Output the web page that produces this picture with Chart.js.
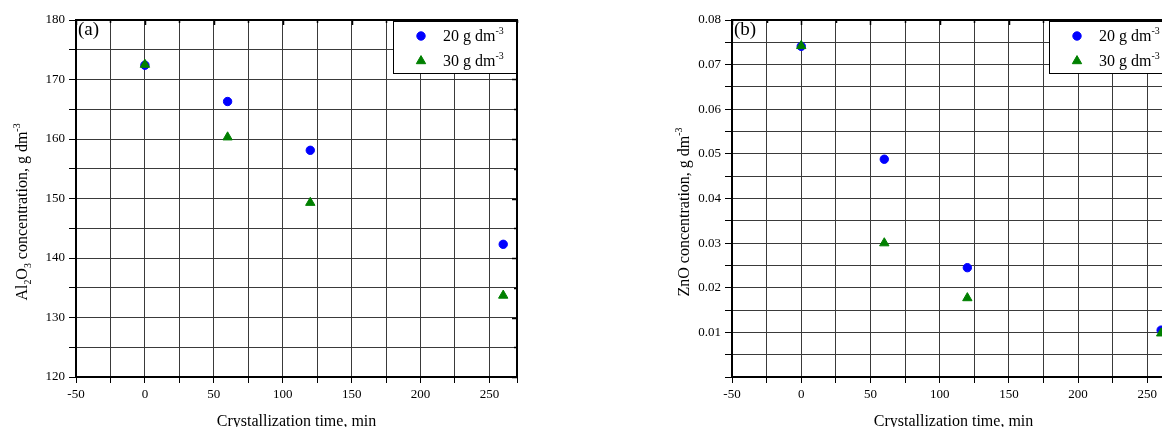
<!DOCTYPE html>
<html>
<head>
<meta charset="utf-8">
<script src="https://cdn.jsdelivr.net/npm/chart.js@4/dist/chart.umd.min.js"></script>
<style>
  body { margin: 0; width: 1162px; height: 427px; overflow: hidden; background: #fff; position: relative; }
  canvas { position: absolute; top: 0; }
</style>
</head>
<body>
<canvas id="chartA" width="560" height="427" style="left:0"></canvas>
<canvas id="chartB" width="562" height="427" style="left:656px"></canvas>
<script>
const timeMin = [0, 60, 120, 260]
const al20 = [172.4, 166.3, 158.1, 142.3]
const al30 = [172.5, 160.3, 149.3, 133.7]
const zn20 = [0.0741, 0.0488, 0.0245, 0.0105]
const zn30 = [0.0742, 0.0300, 0.0177, 0.0098]
const seriesNames = ['20 g dm', '30 g dm']
const xTickLabels = [-50, 0, 50, 100, 150, 200, 250]
const alTickLabels = [120, 130, 140, 150, 160, 170, 180]
const znTickLabels = [0.01, 0.02, 0.03, 0.04, 0.05, 0.06, 0.07, 0.08]

const serif = 'Liberation Serif'
const toPoints = (ys) => timeMin.map((x, i) => ({ x: x, y: ys[i] }))

// draw text made of normal / sub / sup parts, returns width
function richText(ctx, parts, x, y, size, measureOnly) {
    let w = 0
    for (const [t, mode] of parts) {
        const s = mode === 'n' ? size : size * 0.62
        const dy = mode === 'sub' ? size * 0.28 : mode === 'sup' ? -size * 0.42 : 0
        ctx.font = `${s}px "${serif}"`
        if (!measureOnly) ctx.fillText(t, x + w, y + dy)
        w += ctx.measureText(t).width
    }
    return w
}

function drawMarker(ctx, style, x, y, r, color) {
    ctx.fillStyle = color
    ctx.strokeStyle = color
    ctx.beginPath()
    if (style === 'circle') {
        ctx.arc(x, y, r, 0, Math.PI * 2)
    } else {
        ctx.moveTo(x, y - r)
        ctx.lineTo(x + r * 0.866, y + r * 0.5)
        ctx.lineTo(x - r * 0.866, y + r * 0.5)
        ctx.closePath()
    }
    ctx.fill()
    ctx.stroke()
}

// grid every 25 min from -50 up to 250, then the right edge
function xGridTicks(s) {
    const t = []
    for (let v = -50; v <= 250; v += 25) t.push({ value: v })
    t.push({ value: s.max })
    s.ticks = t
}

function decorPlugin(panel, yTitle, yTitleX) {
    return {
        id: 'decor' + panel,
        afterDraw(chart) {
            const ctx = chart.ctx
            const a = chart.chartArea
            const xs = chart.scales.x
            const ys = chart.scales.y
            ctx.save()

            // frame
            ctx.strokeStyle = '#000'
            ctx.lineWidth = 2
            ctx.strokeRect(a.left, a.top, a.right - a.left, a.bottom - a.top)

            // inward ticks on top and right
            ctx.lineWidth = 1.5
            ctx.beginPath()
            xs.ticks.forEach(t => {
                const px = Math.round(xs.getPixelForValue(t.value)) + 0.5
                const len = t.label !== '' ? 5 : 3
                ctx.moveTo(px, a.top)
                ctx.lineTo(px, a.top + len)
            })
            ys.ticks.forEach(t => {
                const py = Math.round(ys.getPixelForValue(t.value)) + 0.5
                const len = t.label !== '' ? 5 : 3
                ctx.moveTo(a.right, py)
                ctx.lineTo(a.right - len, py)
            })
            ctx.stroke()

            ctx.fillStyle = '#000'
            ctx.textBaseline = 'alphabetic'

            // panel letter
            ctx.font = `19px "${serif}"`
            ctx.textAlign = 'left'
            ctx.fillText(panel, a.left + 2, a.top + 15)

            // x title
            ctx.font = `16px "${serif}"`
            ctx.textAlign = 'center'
            ctx.fillText('Crystallization time, min', (a.left + a.right) / 2, 426)

            // y title
            ctx.textAlign = 'left'
            ctx.save()
            ctx.translate(yTitleX, 212)
            ctx.rotate(-Math.PI / 2)
            const w = richText(ctx, yTitle, 0, 0, 16, true)
            richText(ctx, yTitle, -w / 2, 5, 16, false)
            ctx.restore()

            // legend box
            const bx = a.left + 317
            const by = a.top + 1
            ctx.fillStyle = '#fff'
            ctx.fillRect(bx, by, 123, 52)
            ctx.strokeStyle = '#000'
            ctx.lineWidth = 1
            ctx.strokeRect(bx + 0.5, by + 0.5, 123, 52)
            chart.data.datasets.forEach((ds, i) => {
                const ly = by + 15 + i * 25
                drawMarker(ctx, ds.pointStyle, bx + 28, ly, ds.pointRadius, ds.backgroundColor)
                ctx.fillStyle = '#000'
                richText(ctx, [[seriesNames[i], 'n'], ['-3', 'sup']], bx + 50, ly + 5, 16, false)
            })
            ctx.restore()
        }
    }
}

function makeChart(id, d20, d30, yMin, yMax, yStep, yLabels, fmt, panel, yTitle, yTitleX) {
    const ctx = document.getElementById(id).getContext('2d')
    new Chart(ctx, {
        type: 'scatter',
        data: {
            datasets: [{
                label: seriesNames[0],
                data: toPoints(d20),
                order: 1,
                pointStyle: 'circle',
                pointRadius: 4.2,
                borderWidth: 1,
                backgroundColor: '#0000ff',
                borderColor: '#0000ff',
            }, {
                label: seriesNames[1],
                data: toPoints(d30),
                order: 0,
                pointStyle: 'triangle',
                pointRadius: 5.4,
                borderWidth: 1,
                backgroundColor: '#008000',
                borderColor: '#008000',
            }]
        },
        options: {
            responsive: false,
            animation: false,
            devicePixelRatio: 1,
            layout: { padding: { top: 20, right: 43, left: 0, bottom: 0 } },
            scales: {
                x: {
                    type: 'linear',
                    min: -50,
                    max: 270,
                    afterBuildTicks: xGridTicks,
                    afterFit: (s) => { s.height = 50 },
                    border: { display: false },
                    grid: { color: '#3a3a3a', lineWidth: 1, tickColor: '#000', tickLength: 6 },
                    ticks: {
                        autoSkip: false,
                        maxRotation: 0,
                        padding: 4,
                        color: '#000',
                        font: { family: serif, size: 13 },
                        callback: (v) => xTickLabels.includes(v) ? String(v) : ''
                    }
                },
                y: {
                    min: yMin,
                    max: yMax,
                    afterFit: (s) => { s.width = 76 },
                    border: { display: false },
                    grid: { color: '#3a3a3a', lineWidth: 1, tickColor: '#000', tickLength: 7 },
                    ticks: {
                        stepSize: yStep,
                        autoSkip: false,
                        padding: 4,
                        color: '#000',
                        font: { family: serif, size: 13 },
                        callback: (v) => {
                            const hit = yLabels.find(l => Math.abs(l - v) < yStep / 10)
                            return hit !== undefined ? fmt(hit) : ''
                        }
                    }
                }
            },
            plugins: {
                legend: { display: false },
                tooltip: { enabled: false }
            }
        },
        plugins: [decorPlugin(panel, yTitle, yTitleX)]
    })
}

makeChart('chartA', al20, al30, 120, 180, 5, alTickLabels, (v) => String(v), '(a)',
    [['Al', 'n'], ['2', 'sub'], ['O', 'n'], ['3', 'sub'], [' concentration, g dm', 'n'], ['-3', 'sup']], 22)

makeChart('chartB', zn20, zn30, 0, 0.08, 0.005, znTickLabels, (v) => v.toFixed(2), '(b)',
    [['ZnO concentration, g dm', 'n'], ['-3', 'sup']], 28)
</script>
</body>
</html>
